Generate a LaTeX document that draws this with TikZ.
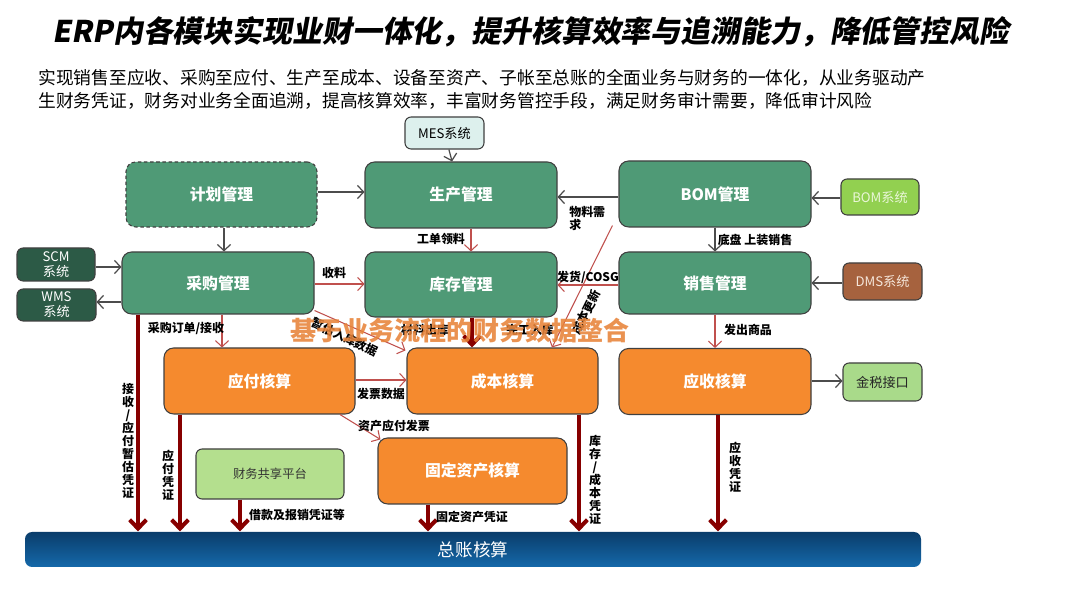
\documentclass[tikz,border=0pt]{standalone}
\usepackage{fontspec}
\setmainfont{Noto Sans CJK SC}
\newfontfamily\titlefont{Noto Sans CJK SC}[FakeSlant=0.18]
\usetikzlibrary{arrows.meta,calc}
\pgfdeclarelayer{background}
\pgfdeclarelayer{foreground}
\pgfsetlayers{background,main,foreground}
\definecolor{mgreen}{HTML}{4F9A76}
\definecolor{morange}{HTML}{F58A2E}
\definecolor{scmgreen}{HTML}{2C5A46}
\definecolor{mescol}{HTML}{DDF0ED}
\definecolor{bomsys}{HTML}{92D050}
\definecolor{bomtxt}{HTML}{EAF6D8}
\definecolor{dmscol}{HTML}{A6623E}
\definecolor{dmstxt}{HTML}{F5E6DA}
\definecolor{taxcol}{HTML}{A9DA8A}
\definecolor{fsscol}{HTML}{B4DF8E}
\definecolor{gltop}{HTML}{0A3D6B}
\definecolor{glbot}{HTML}{1569AA}
\definecolor{dred}{HTML}{870000}
\definecolor{rline}{HTML}{C0504D}
\definecolor{ovcol}{HTML}{E8843A}
\begin{document}
\begin{tikzpicture}[x=0.02cm,y=-0.02cm,
  every node/.style={inner sep=0pt},
  box/.style={draw=black!75, line width=0.6pt, rounded corners=5.5pt, align=center},
  gbox/.style={box, fill=mgreen, text=white, font=\bfseries\fontsize{9}{10}\selectfont},
  obox/.style={box, fill=morange, text=white, font=\bfseries\fontsize{9}{10}\selectfont},
  sbox/.style={box, rounded corners=3.5pt, font=\fontsize{7.5}{8.5}\selectfont},
  sz/.style 2 args={minimum width=#1*0.02cm, minimum height=#2*0.02cm},
  lbl/.style={font=\bfseries\fontsize{6.8}{7.6}\selectfont, text=black},
  vlbl/.style={align=center, font=\bfseries\fontsize{6.8}{7.4}\selectfont, text=black},
  garrow/.style={draw=black!70, line width=0.7pt, -{Straight Barb[length=3.5pt,width=7.5pt]}},
  rarrow/.style={draw=rline, line width=0.6pt, -{Straight Barb[length=3.5pt,width=7.5pt]}},
  tarrow/.style={draw=dred, line width=2.3pt, -{Straight Barb[length=5pt,width=9.5pt]}},
]
\fill[white] (0,0) rectangle (1080,607);
\useasboundingbox (0,0) rectangle (1080,607);

% title and intro
\node[font=\titlefont\bfseries\fontsize{17}{19}\selectfont] (title) at (531,32) {ERP内各模块实现业财一体化，提升核算效率与追溯能力，降低管控风险};
\node[anchor=west, font=\fontsize{10.1}{12}\selectfont] (intro1) at (38,78) {实现销售至应收、采购至应付、生产至成本、设备至资产、子帐至总账的全面业务与财务的一体化，从业务驱动产};
\node[anchor=west, font=\fontsize{10.1}{12}\selectfont] (intro2) at (38,101) {生财务凭证，财务对业务全面追溯，提高核算效率，丰富财务管控手段，满足财务审计需要，降低审计风险};

% boxes
\node[sbox, fill=mescol, sz={79}{32}] (mes) at (444.5,133) {MES系统};
\node[gbox, sz={191}{65}, dashed, dash pattern=on 2pt off 1.5pt] (plan) at (221.5,194.5) {计划管理};
\node[gbox, sz={192}{66}] (prod) at (461,195) {生产管理};
\node[gbox, sz={192}{66}] (bom) at (715,194) {BOM管理};
\node[sbox, fill=bomsys, text=bomtxt, sz={78}{36}] (bomsys) at (880,197) {BOM系统};
\node[sbox, fill=scmgreen, text=white, sz={78}{33}] (scm) at (56,264.5) {SCM\\系统};
\node[sbox, fill=scmgreen, text=white, sz={79}{32}] (wms) at (56.5,305) {WMS\\系统};
\node[gbox, sz={192}{62}] (purch) at (218,283) {采购管理};
\node[gbox, sz={192}{62}] (sales) at (715,283) {销售管理};
\node[sbox, fill=dmscol, text=dmstxt, sz={79}{37}] (dms) at (882.5,281.5) {DMS系统};
\node[obox, sz={191}{66}] (ap) at (259.5,381) {应付核算};
\node[obox, sz={191}{66}] (cost) at (502.5,381) {成本核算};
\node[obox, sz={192}{66}] (ar) at (715,381.5) {应收核算};
\node[sbox, fill=taxcol, text=black!85, sz={79}{38}] (tax) at (882.5,382) {金税接口};
\node[sbox, fill=fsscol, text=black!80, sz={148}{50}, font=\fontsize{7}{8}\selectfont] (fss) at (270,474) {财务共享平台};
\node[obox, sz={189}{66}] (fa) at (472.5,471) {固定资产核算};
\node[box, draw=none, rounded corners=4pt, top color=gltop, bottom color=glbot, text=white, font=\fontsize{10}{11}\selectfont, sz={896}{35}] (gl) at (473,549.5) {总账核算};

% thick line from production through inventory (behind)
\begin{pgfonlayer}{background}
\draw[tarrow] (prod.south -| 502,0) -- (cost.north -| 502,0);
\end{pgfonlayer}
\node[gbox, sz={192}{65}] (inv) at (461,284.5) {库存管理};

% grey connectors
\draw[garrow] (mes) -- (prod);
\draw[garrow] (plan.east |- 0,192) -- (prod.west |- 0,192);
\draw[garrow] (bom.west |- 0,197) -- (prod.east |- 0,197);
\draw[garrow] (bomsys.west |- 0,198) -- (bom.east |- 0,198);
\draw[garrow] (plan.south -| 224,0) -- (purch.north -| 224,0);
\draw[garrow] (bom.south -| 715,0) -- (sales.north -| 715,0);
\draw[garrow] (scm.east |- 0,267) -- (purch.west |- 0,267);
\draw[garrow] (purch.west |- 0,302) -- (wms.east |- 0,302);
\draw[garrow] (dms.west |- 0,283) -- (sales.east |- 0,283);
\draw[garrow] (ar.east |- 0,381) -- (tax.west |- 0,381);

% thin red connectors
\draw[rarrow] (prod.south -| 471,0) -- (inv.north -| 471,0);
\draw[rarrow] (purch.east |- 0,284) -- (inv.west |- 0,284);
\draw[rarrow] (sales.west |- 0,285) -- (inv.east |- 0,285);
\draw[rarrow] (purch.south -| 222,0) -- (ap.north -| 222,0);
\draw[rarrow] ($(purch.south east)+(0,-4)$) -- ($(cost.north west)+(-1,3)$);
\draw[rarrow] (ap.east |- 0,380) -- (cost.west |- 0,380);
\draw[rarrow] (ap.south -| 340,0) -- ($(fa.north west)+(3,2)$);
\draw[rarrow] (sales.south -| 715,0) -- (ar.north -| 715,0);
\draw[rarrow] ($(bom.south west)+(-6,-2)$) -- (cost.north -| 552,0);

% thick dark red connectors
\draw[tarrow] (inv.south -| 472,0) -- (cost.north -| 472,0);
\draw[tarrow] (purch.south -| 138,0) -- (gl.north -| 138,0);
\draw[tarrow] (ap.south -| 180,0) -- (gl.north -| 180,0);
\draw[tarrow] (fss.south -| 240,0) -- (gl.north -| 240,0);
\draw[tarrow] (fa.south -| 428,0) -- (gl.north -| 428,0);
\draw[tarrow] (cost.south -| 579,0) -- (gl.north -| 579,0);
\draw[tarrow] (ar.south -| 718,0) -- (gl.north -| 718,0);

% labels
\node[lbl] (l1) at (441,239) {工单领料};
\node[lbl] (l2) at (334,273) {收料};
\node[lbl] (l3) at (755,240) {底盘 上装销售};
\node[lbl, anchor=north west, align=left] (l4) at (569,206) {物料需\\求};
\node[lbl] (l5) at (588,277) {发货/COSG};
\node[lbl] (l6) at (186,328) {采购订单/接收};
\node[lbl] (l7) at (748,330) {发出商品};
\node[lbl] (l8) at (381,394) {发票数据};
\node[lbl] (l9) at (394,426) {资产应付发票};
\node[lbl] (l10) at (297,515) {借款及报销凭证等};
\node[lbl] (l11) at (472,517) {固定资产凭证};
\node[lbl, rotate=-25] (l12) at (345,337) {暂估入库数据};
\node[lbl] (l13) at (425,330) {材料出库};
\node[lbl] (l14) at (530,330) {完工入库};
\node[lbl, rotate=63.6] (l15) at (586,312) {成本更新};
\node[vlbl] (v1) at (128,441) {接\\收\\/\\应\\付\\暂\\估\\凭\\证};
\node[vlbl] (v2) at (168,475) {应\\付\\凭\\证};
\node[vlbl] (v3) at (595,480) {库\\存\\/\\成\\本\\凭\\证};
\node[vlbl] (v4) at (735,467) {应\\收\\凭\\证};

% overlay caption
\begin{pgfonlayer}{foreground}
\node[font=\bfseries\fontsize{14.8}{16}\selectfont, text=ovcol, text opacity=0.88] (overlay) at (460,331) {基于业务流程的财务数据整合};
\end{pgfonlayer}
\end{tikzpicture}
\end{document}
